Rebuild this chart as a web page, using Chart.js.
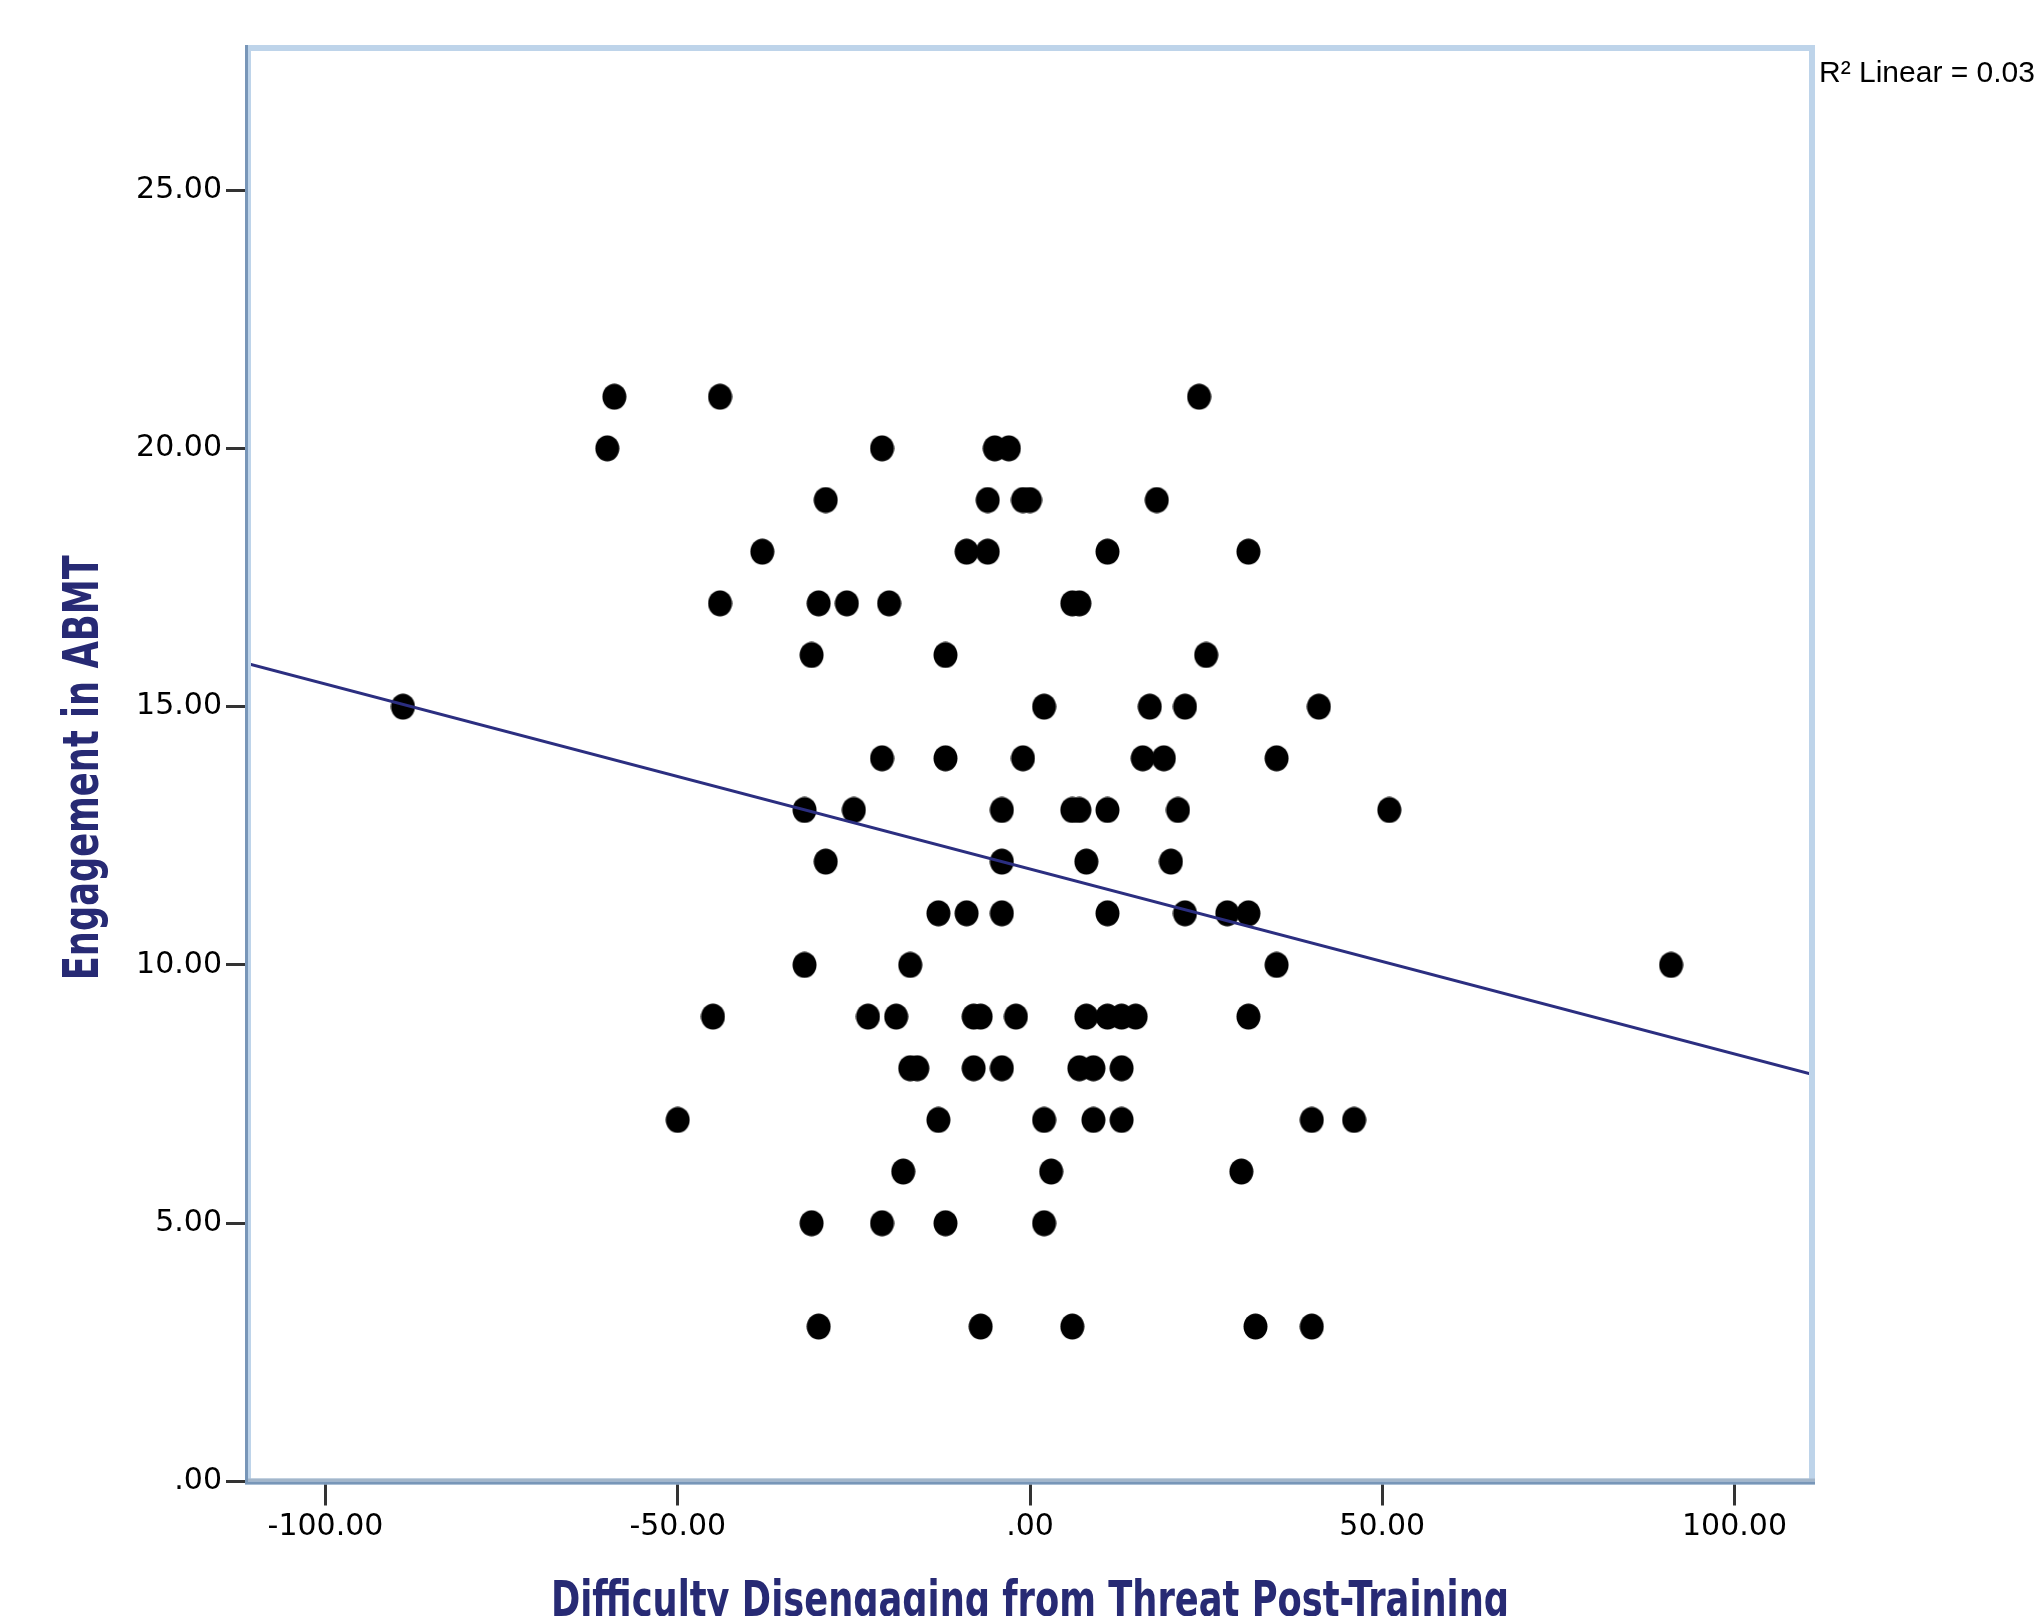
<!DOCTYPE html>
<html>
<head>
<meta charset="utf-8">
<title>Engagement in ABMT vs difficulty disengaging</title>
<script src="https://cdn.jsdelivr.net/npm/chart.js@4"></script>
<style>
  html, body { margin: 0; padding: 0; background: #fff; }
</style>
</head>
<body>
<canvas id="scatter" width="2043" height="1616"></canvas>
<script>
// DATA (grouped by engagement level)
const disengaging = [
  -59, -44, 24,                               // 21
  -60, -21, -5, -3,                           // 20
  -29, -6, -1, 0, 18,                         // 19
  -38, -9, -6, 11, 31,                        // 18
  -44, -30, -26, -20, 6, 7,                   // 17
  -31, -12, 25,                               // 16
  -89, 2, 17, 22, 41,                         // 15
  -21, -12, -1, 16, 19, 35,                   // 14
  -32, -25, -4, 6, 7, 11, 21, 51,             // 13
  -29, -4, 8, 20,                             // 12
  -13, -9, -4, 11, 22, 28, 31,                // 11
  -32, -17, 35, 91,                           // 10
  -45, -23, -19, -8, -7, -2, 8, 11, 13, 15, 31, // 9
  -17, -16, -8, -4, 7, 9, 13,                 // 8
  -50, -13, 2, 9, 13, 40, 46,                 // 7
  -18, 3, 30,                                 // 6
  -31, -21, -12, 2,                           // 5
  -30, -7, 6, 32, 40                          // 3
];
const engagement = [
  21, 21, 21,
  20, 20, 20, 20,
  19, 19, 19, 19, 19,
  18, 18, 18, 18, 18,
  17, 17, 17, 17, 17, 17,
  16, 16, 16,
  15, 15, 15, 15, 15,
  14, 14, 14, 14, 14, 14,
  13, 13, 13, 13, 13, 13, 13, 13,
  12, 12, 12, 12,
  11, 11, 11, 11, 11, 11, 11,
  10, 10, 10, 10,
  9, 9, 9, 9, 9, 9, 9, 9, 9, 9, 9,
  8, 8, 8, 8, 8, 8, 8,
  7, 7, 7, 7, 7, 7, 7,
  6, 6, 6,
  5, 5, 5, 5,
  3, 3, 3, 3, 3
];
const xTicks = [-100, -50, 0, 50, 100];
const yTicks = [0, 5, 10, 15, 20, 25];
const xRange = [-111, 111];
const yRange = [0, 27.75];
// fit line as drawn on the plot (value at x = 0 and slope)
const fitIntercept = 11.855;
const fitSlope = -0.0358;
const r2Label = "R\u00B2 Linear = 0.03";
const xTitle = "Difficulty Disengaging from Threat Post-Training";
const yTitle = "Engagement in ABMT";

const fitLine = xRange.map(x => ({ x: x, y: fitIntercept + fitSlope * x }));
const points = disengaging.map((x, i) => ({ x: x, y: engagement[i] }));

// SPSS style numbers: ".00", "-50.00"
const spss = v => v.toFixed(2).replace(/^(-?)0\./, "$1.");

const NAVY = "#272a74";
const tickFont = { family: "'DejaVu Sans', sans-serif", size: 30 };
const titleFont = "bold 49px 'DejaVu Sans Condensed', 'DejaVu Sans', sans-serif";

// slightly tall dot, like the SPSS marker
const dot = document.createElement("canvas");
dot.width = 25; dot.height = 27;
(() => {
  const c = dot.getContext("2d");
  c.fillStyle = "#000";
  c.beginPath();
  c.ellipse(12.5, 13.5, 12, 13, 0, 0, Math.PI * 2);
  c.fill();
})();

// frame around the plot, axis titles (narrow bold), R2 note
const framePlugin = {
  id: "frame",
  afterDatasetsDraw(chart) {
    const { ctx, chartArea: a } = chart;
    ctx.save();
    ctx.strokeStyle = "#bed4ea";
    ctx.lineWidth = 6;
    ctx.strokeRect(a.left, a.top, a.right - a.left, a.bottom - a.top);
    ctx.lineWidth = 3;
    ctx.strokeStyle = "#7896b8";
    ctx.beginPath();
    ctx.moveTo(a.left - 1.5, a.top - 3);
    ctx.lineTo(a.left - 1.5, a.bottom + 3);
    ctx.moveTo(a.left - 3, a.bottom + 1.5);
    ctx.lineTo(a.right + 3, a.bottom + 1.5);
    ctx.stroke();
    ctx.strokeStyle = "#a3b6ca";
    ctx.beginPath();
    ctx.moveTo(a.left, a.bottom - 1.5);
    ctx.lineTo(a.right + 3, a.bottom - 1.5);
    ctx.stroke();

    ctx.fillStyle = "#000";
    ctx.font = "30px 'Liberation Sans', sans-serif";
    ctx.textAlign = "left";
    ctx.textBaseline = "middle";
    ctx.fillText(r2Label, a.right + 7, 74);
    ctx.restore();
  },
  afterDraw(chart) {
    const { ctx, chartArea: a } = chart;
    ctx.save();
    ctx.fillStyle = NAVY;
    ctx.font = titleFont;
    ctx.textAlign = "center";
    ctx.textBaseline = "alphabetic";
    // x title, squeezed to a narrow face
    ctx.save();
    ctx.translate((a.left + a.right) / 2, 1616);
    ctx.scale(0.8, 1);
    ctx.fillText(xTitle, 0, 0);
    ctx.restore();
    // y title, rotated
    ctx.save();
    ctx.translate(98, (a.top + a.bottom) / 2 + 3);
    ctx.rotate(-Math.PI / 2);
    ctx.scale(0.8, 1);
    ctx.fillText(yTitle, 0, 0);
    ctx.restore();
    ctx.restore();
  }
};

new Chart(document.getElementById("scatter"), {
  type: "scatter",
  data: {
    datasets: [
      {
        type: "line",
        data: fitLine,
        borderColor: "#2b2e80",
        borderWidth: 3,
        pointRadius: 0,
        fill: false
      },
      {
        data: points,
        pointStyle: dot,
        pointRadius: 12,
        pointHoverRadius: 12
      }
    ]
  },
  options: {
    responsive: false,
    devicePixelRatio: 1,
    animation: false,
    layout: { padding: { left: 0, right: 231, top: 48, bottom: 0 } },
    plugins: { legend: { display: false }, tooltip: { enabled: false } },
    scales: {
      x: {
        type: "linear",
        min: xRange[0],
        max: xRange[1],
        afterBuildTicks: s => { s.ticks = xTicks.map(v => ({ value: v })); },
        afterFit: s => { s.height = 134.5; },
        border: { display: false },
        grid: { drawOnChartArea: false, drawTicks: true, tickLength: 24, tickWidth: 3, tickColor: "#333" },
        ticks: { font: tickFont, color: "#000", padding: 4, maxRotation: 0, callback: v => spss(v) },
        title: { display: false }
      },
      y: {
        type: "linear",
        min: yRange[0],
        max: yRange[1],
        afterBuildTicks: s => { s.ticks = yTicks.map(v => ({ value: v })); },
        afterFit: s => { s.width = 248; },
        border: { display: false },
        grid: { drawOnChartArea: false, drawTicks: true, tickLength: 22, tickWidth: 3, tickColor: "#333" },
        ticks: { font: tickFont, color: "#000", padding: 4, callback: v => spss(v) },
        title: { display: false }
      }
    }
  },
  plugins: [framePlugin]
});
</script>
</body>
</html>
